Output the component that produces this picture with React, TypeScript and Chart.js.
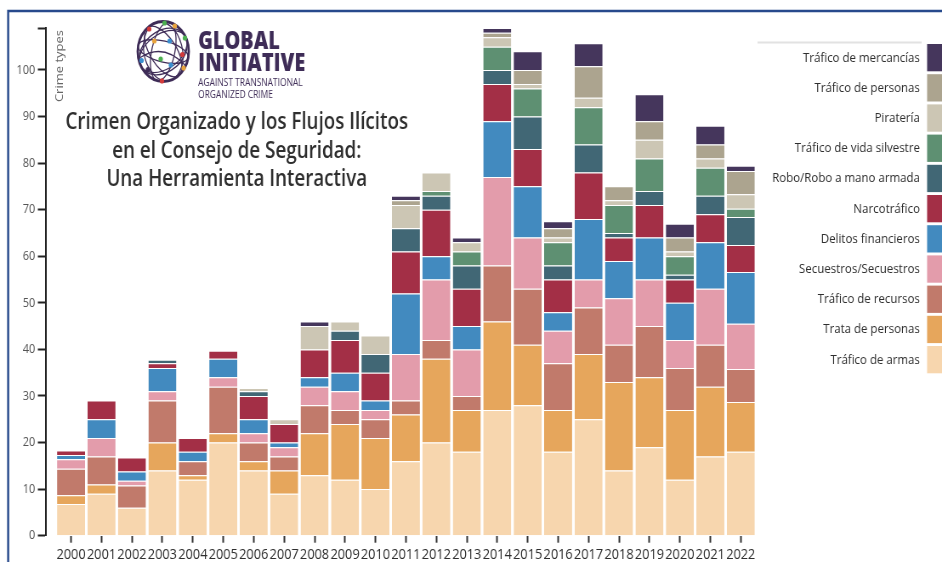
import { useEffect, useRef } from 'react';
import { Chart, registerables } from 'chart.js';

Chart.register(...registerables);

// ---------- DATA ----------
const years = [2000, 2001, 2002, 2003, 2004, 2005, 2006, 2007, 2008, 2009, 2010, 2011, 2012, 2013, 2014, 2015, 2016, 2017, 2018, 2019, 2020, 2021, 2022];

const traficoArmas = [6.8, 9, 6, 14, 12, 20, 14, 9, 13, 12, 10, 16, 20, 18, 27, 28, 18, 25, 14, 19, 12, 17, 18];
const trataPersonas = [1.9, 2, 0, 6, 1, 2, 2, 5, 9, 12, 11, 10, 18, 9, 19, 13, 9, 14, 19, 15, 15, 15, 10.7];
const traficoRecursos = [5.7, 6, 4.8, 9, 3, 10, 4, 3, 6, 3, 4, 3, 4, 3, 12, 12, 10, 10, 8, 11, 9, 9, 7.1];
const secuestros = [2, 4, 1, 2, 0, 2, 2, 2, 4, 4, 2, 10, 13, 10, 19, 11, 7, 6, 10, 10, 6, 12, 9.7];
const delitosFinancieros = [0.9, 4, 2, 5, 2, 4, 3, 1, 2, 4, 2, 13, 5, 5, 12, 11, 4, 13, 8, 9, 8, 10, 11.1];
const narcotrafico = [1, 4, 3, 1, 3, 1.7, 5, 4, 6, 7, 6, 9, 10, 8, 8, 8, 7, 10, 5, 7, 5, 6, 5.8];
const robo = [0, 0, 0, 0.8, 0, 0, 1, 0, 0, 2, 4, 5, 3, 5, 3, 7, 3, 6, 1, 3, 1, 4, 6];
const vidaSilvestre = [0, 0, 0, 0, 0, 0, 0, 0, 0, 0, 0, 0, 1, 3, 5, 6, 5, 8, 6, 7, 4, 6, 1.8];
const pirateria = [0, 0, 0, 0, 0, 0, 0.7, 1, 5, 2, 4, 5, 4, 2, 2, 1, 1, 2, 1, 4, 1, 2, 3.1];
const traficoPersonas = [0, 0, 0, 0, 0, 0, 0, 0, 0, 0, 0, 1, 0, 0, 1, 3, 2, 6.8, 3, 4, 3, 3, 5];
const mercancias = [0, 0, 0, 0, 0, 0, 0, 0, 1, 0, 0, 1, 0, 1, 1, 4, 1.5, 4.9, 0, 5.8, 3, 4, 1.1];

const seriesLabels = [
  'Tráfico de armas',
  'Trata de personas',
  'Tráfico de recursos',
  'Secuestros/Secuestros',
  'Delitos financieros',
  'Narcotráfico',
  'Robo/Robo a mano armada',
  'Tráfico de vida silvestre',
  'Piratería',
  'Tráfico de personas',
  'Tráfico de mercancías',
];
const seriesValues = [traficoArmas, trataPersonas, traficoRecursos, secuestros, delitosFinancieros, narcotrafico, robo, vidaSilvestre, pirateria, traficoPersonas, mercancias];
const seriesColors = ['#f7d6ae', '#e6a65c', '#c17a6b', '#e39cab', '#428abf', '#a32f46', '#416775', '#5e9072', '#ccc6b4', '#aca48f', '#45365c'];

const yTickValues = [0, 10, 20, 30, 40, 50, 60, 70, 80, 90, 100];
const yAxisTitle = 'Crime types';
const titleLines = ['Crimen Organizado y los Flujos Ilícitos', 'en el Consejo de Seguridad:', 'Una Herramienta Interactiva'];
const logoLines = ['GLOBAL', 'INITIATIVE', 'AGAINST TRANSNATIONAL', 'ORGANIZED CRIME'];

// ---------- LAYOUT ----------
const W = 1108;
const H = 562;
const SQUEEZE = 942 / W;
const FONT = '"Open Sans", "DejaVu Sans", sans-serif';
const LOGO_COLOR = '#3e2c57';

function fitText(ctx: CanvasRenderingContext2D, text: string, x: number, y: number, font: string, width: number, align: CanvasTextAlign) {
  ctx.font = font;
  const w = ctx.measureText(text).width;
  ctx.save();
  ctx.translate(x, y);
  ctx.scale(width / w, 1);
  ctx.textAlign = align;
  ctx.textBaseline = 'alphabetic';
  ctx.fillText(text, 0, 0);
  ctx.restore();
}

function drawGlobe(ctx: CanvasRenderingContext2D, cx: number, cy: number, r: number) {
  ctx.save();
  ctx.strokeStyle = LOGO_COLOR;
  ctx.lineWidth = 2.8;
  ctx.beginPath();
  ctx.arc(cx, cy, r, 0, Math.PI * 2);
  ctx.stroke();
  ctx.lineWidth = 1.3;
  const ell = [
    [0.45, 1, 0.25], [0.75, 1, -0.3], [1, 0.35, 0.2], [1, 0.7, -0.5], [0.6, 1, 1.1], [1, 0.5, 0.9],
  ];
  for (const [ax, ay, rot] of ell) {
    ctx.beginPath();
    ctx.ellipse(cx, cy, r * ax, r * ay, rot, 0, Math.PI * 2);
    ctx.stroke();
  }
  ctx.beginPath();
  ctx.moveTo(cx - r * 0.9, cy + r * 0.2);
  ctx.quadraticCurveTo(cx, cy - r * 0.3, cx + r * 0.85, cy + r * 0.45);
  ctx.stroke();
  const dots: [number, number, string][] = [
    [-0.55, -0.75, '#d33b3b'], [0.05, -0.95, '#4caf50'], [0.45, -0.85, '#e8a33d'], [0.85, -0.45, '#4caf50'],
    [-0.35, -0.35, '#e8a33d'], [0.25, -0.35, '#3a8fd0'], [0.75, 0.1, '#d33b3b'], [-0.85, 0.3, '#3a8fd0'],
    [-0.1, 0.25, '#4caf50'], [0.3, 0.45, '#3a8fd0'], [0.8, 0.55, '#e8a33d'], [-0.05, 0.98, '#d33b3b'],
    [-0.6, 0.6, '#3e2c57'],
  ];
  for (const [dx, dy, c] of dots) {
    ctx.fillStyle = c;
    ctx.beginPath();
    ctx.arc(cx + dx * r, cy + dy * r, 2.6, 0, Math.PI * 2);
    ctx.fill();
  }
  ctx.restore();
}

const decorations = {
  id: 'decorations',
  beforeDraw(chart: any) {
    const ctx: CanvasRenderingContext2D = chart.ctx;
    ctx.save();
    ctx.fillStyle = '#ffffff';
    ctx.fillRect(0, 0, W, H);
    // frame
    ctx.strokeStyle = '#274a8c';
    ctx.lineWidth = 2.4;
    ctx.beginPath();
    ctx.moveTo(9.6, H + 5);
    ctx.lineTo(9.6, 11);
    ctx.lineTo(W + 5, 11);
    ctx.stroke();
    ctx.restore();
  },
  afterDraw(chart: any) {
    const ctx: CanvasRenderingContext2D = chart.ctx;
    ctx.save();
    // y axis title
    ctx.save();
    ctx.translate(74, 30);
    ctx.rotate(-Math.PI / 2);
    ctx.font = `13px ${FONT}`;
    ctx.fillStyle = '#666';
    ctx.textAlign = 'right';
    ctx.textBaseline = 'alphabetic';
    ctx.fillText(yAxisTitle, 0, 0);
    ctx.restore();

    // logo
    drawGlobe(ctx, 192, 51.5, 30);
    ctx.fillStyle = LOGO_COLOR;
    fitText(ctx, logoLines[0], 233, 48.5, `800 24px ${FONT}`, 96, 'left');
    fitText(ctx, logoLines[1], 233, 71, `800 24px ${FONT}`, 126, 'left');
    fitText(ctx, logoLines[2], 233, 86, `10.5px ${FONT}`, 123, 'left');
    fitText(ctx, logoLines[3], 233, 97.5, `10.5px ${FONT}`, 88, 'left');

    // title
    ctx.fillStyle = '#2e2e2e';
    const tFont = `600 23px ${FONT}`;
    ctx.font = tFont;
    const s = 403 / ctx.measureText(titleLines[0]).width;
    const baselines = [129, 157.5, 186];
    titleLines.forEach((line, i) => {
      ctx.save();
      ctx.translate(278.5, baselines[i]);
      ctx.scale(s, 1);
      ctx.font = tFont;
      ctx.textAlign = 'center';
      ctx.fillText(line, 0, 0);
      ctx.restore();
    });

    // legend
    ctx.strokeStyle = '#e2e2e2';
    ctx.lineWidth = 2;
    ctx.beginPath();
    ctx.moveTo(891, 42.5);
    ctx.lineTo(1084, 42.5);
    ctx.stroke();
    const ds = chart.data.datasets;
    ctx.font = `13.5px ${FONT}`;
    ctx.textAlign = 'right';
    ctx.textBaseline = 'middle';
    for (let i = 0; i < ds.length; i++) {
      const d = ds[ds.length - 1 - i];
      const top = 44 + i * 30.2;
      ctx.fillStyle = d.backgroundColor;
      ctx.fillRect(1090.5, top, 30, 27.3);
      ctx.fillStyle = '#2e2e2e';
      ctx.fillText(d.label, 1082, top + 13.8);
    }
    ctx.restore();
  },
};

export default function App() {
  const ref = useRef<HTMLCanvasElement | null>(null);
  useEffect(() => {
    document.body.style.margin = '0';
    document.body.style.overflow = 'hidden';
    const totals = years.map((_, i) => seriesValues.reduce((acc, arr) => acc + arr[i], 0));
    const yMax = Math.max(...totals);
    const chart = new Chart(ref.current as HTMLCanvasElement, {
      type: 'bar',
      data: {
        datasets: seriesValues.map((arr, k) => ({
          label: seriesLabels[k],
          data: years.map((yr, i) => ({ x: yr, y: arr[i] })),
          backgroundColor: seriesColors[k],
          borderColor: 'rgba(255,255,255,0.95)',
          borderWidth: { top: 1, left: 0, right: 0, bottom: 0 },
          borderSkipped: false,
          stack: 'all',
          barPercentage: 0.92,
          categoryPercentage: 1,
        })),
      },
      options: {
        animation: false,
        responsive: false,
        devicePixelRatio: 1,
        layout: { padding: { top: 28, right: W - 889.2, left: 0, bottom: 0 } },
        plugins: { legend: { display: false }, tooltip: { enabled: false }, title: { display: false } },
        scales: {
          x: {
            type: 'linear',
            min: 1999.16,
            max: 2022.5,
            offset: false,
            grid: { drawOnChartArea: false, drawTicks: true, tickLength: 7, tickColor: '#333', tickWidth: 2, offset: false },
            border: { display: false },
            afterBuildTicks: (scale: any) => { scale.ticks = years.map((v) => ({ value: v })); },
            afterFit: (scale: any) => { scale.height = H - 535.7; },
            ticks: {
              autoSkip: false,
              maxRotation: 0,
              padding: 3,
              color: '#2e2e2e',
              font: { family: FONT, size: 15 },
              callback: (v: any) => String(v),
            },
          },
          y: {
            type: 'linear',
            stacked: true,
            min: 0,
            max: yMax,
            grid: { drawOnChartArea: false, drawTicks: true, tickLength: 9, tickColor: '#222', tickWidth: 2 },
            border: { display: true, color: '#222', width: 2 },
            afterBuildTicks: (scale: any) => { scale.ticks = [...yTickValues, yMax].map((v) => ({ value: v })); },
            afterFit: (scale: any) => { scale.width = 53.5; },
            ticks: {
              padding: 3,
              color: '#555',
              font: { family: FONT, size: 13 },
              callback: (v: any) => (yTickValues.includes(v) ? String(v) : ''),
            },
          },
        },
      },
      plugins: [decorations],
    });
    return () => chart.destroy();
  }, []);

  return (
    <div style={{ width: 942, height: 562, overflow: 'hidden', background: '#fff' }}>
      <canvas
        ref={ref}
        width={W}
        height={H}
        style={{ display: 'block', transform: `scaleX(${SQUEEZE})`, transformOrigin: '0 0' }}
      />
    </div>
  );
}
